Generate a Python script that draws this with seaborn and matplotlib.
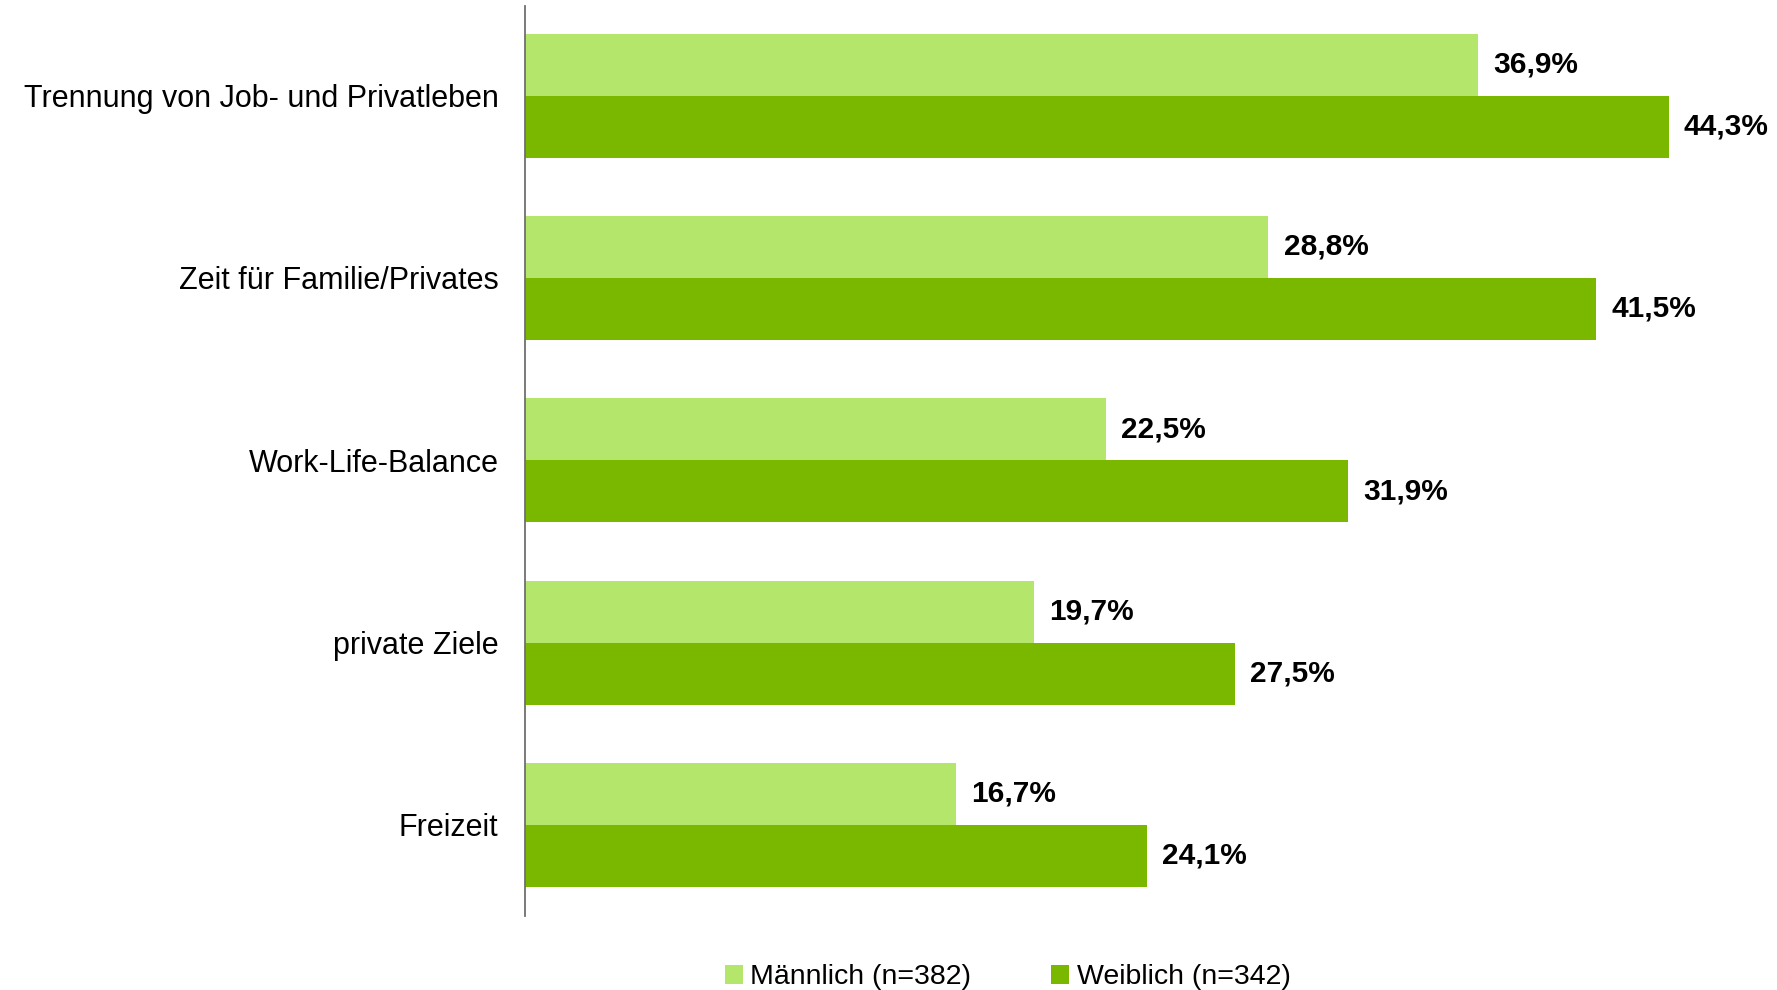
import pandas as pd
import matplotlib.pyplot as plt
import seaborn as sns

# Daten
kategorien = ['Trennung von Job- und Privatleben', 'Zeit für Familie/Privates',
              'Work-Life-Balance', 'private Ziele', 'Freizeit']
maennlich = [36.9, 28.8, 22.5, 19.7, 16.7]
weiblich = [44.3, 41.5, 31.9, 27.5, 24.1]
gruppen = ['Männlich (n=382)', 'Weiblich (n=342)']
farben = ['#b3e66b', '#7ab800']

df = pd.DataFrame({
    'Kategorie': kategorien * 2,
    'Wert': maennlich + weiblich,
    'Gruppe': [gruppen[0]] * len(kategorien) + [gruppen[1]] * len(kategorien),
})

sns.set_style('white')
plt.rcParams['font.family'] = ['Liberation Sans', 'DejaVu Sans']
plt.rcParams['text.color'] = 'black'
plt.rcParams['ytick.color'] = 'black'

fig = plt.figure(figsize=(17.77, 9.9), dpi=100)
ax = fig.add_axes([0.2954, 0.0747, 0.7046, 0.919])

sns.barplot(data=df, x='Wert', y='Kategorie', hue='Gruppe', order=kategorien,
            hue_order=gruppen, palette=farben, orient='h', width=0.68,
            saturation=1, errorbar=None, linewidth=0, ax=ax, legend=True)

# Werte beschriften
for cont in ax.containers:
    ax.bar_label(cont, labels=[f'{v:.1f}%'.replace('.', ',') for v in cont.datavalues],
                 padding=11, fontsize=21.5, fontweight='bold', color='black')

ax.set_xlim(0, 48.5)
ax.set_ylim(4.5, -0.49)
ax.set_xlabel('')
ax.set_ylabel('')
ax.set_xticks([])
ax.tick_params(axis='y', length=0, pad=19, labelsize=22, labelcolor='black')
for s in ['top', 'right', 'bottom']:
    ax.spines[s].set_visible(False)
ax.spines['left'].set_color('#707070')
ax.spines['left'].set_linewidth(1.3)

handles, labels = ax.get_legend_handles_labels()
ax.get_legend().remove()
fig.legend(handles, labels, loc='center', bbox_to_anchor=(0.567, 0.013), ncol=2,
           frameon=False, fontsize=20.5, handlelength=0.65, handleheight=0.65,
           handletextpad=0.25, columnspacing=2.8)

plt.savefig('out.png', dpi=100)
